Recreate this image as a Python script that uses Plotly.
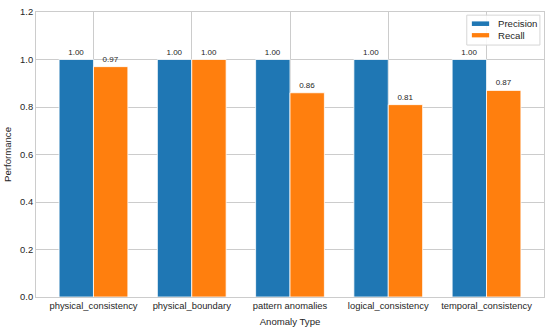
import plotly.graph_objects as go

categories = ["physical_consistency", "physical_boundary", "pattern anomalies",
              "logical_consistency", "temporal_consistency"]
precision = [1.00, 1.00, 1.00, 1.00, 1.00]
recall = [0.97, 1.00, 0.86, 0.81, 0.87]
y_ticks = [0.0, 0.2, 0.4, 0.6, 0.8, 1.0, 1.2]
series_names = ["Precision", "Recall"]
series_colors = ["#1f77b4", "#ff7f0e"]

FONT = "Liberation Sans, Arial, sans-serif"
TXT = "#262626"

fig = go.Figure()
for name, vals, col in zip(series_names, [precision, recall], series_colors):
    fig.add_trace(go.Bar(
        x=categories, y=vals, name=name,
        marker=dict(color=col, line=dict(color="white", width=0.8)),
        text=[f"{v:.2f}" for v in vals], textposition="outside",
        textfont=dict(size=8, color=TXT, family=FONT), cliponaxis=False,
        showlegend=False,
    ))

# compact legend box in the upper right (matplotlib style)
fig.add_shape(type="rect", xref="paper", yref="paper", x0=0.848, x1=0.992, y0=0.884, y1=0.989,
              fillcolor="rgba(255,255,255,0.85)", line=dict(color="#d6d6d6", width=1), layer="above")
leg_rows = [(0.951, 0.967, 0.958), (0.911, 0.926, 0.918)]
for (y0, y1, yt), name, col in zip(leg_rows, series_names, series_colors):
    fig.add_shape(type="rect", xref="paper", yref="paper", x0=0.858, x1=0.892, y0=y0, y1=y1,
                  fillcolor=col, line=dict(width=0), layer="above")
    fig.add_annotation(xref="paper", yref="paper", x=0.905, y=yt, xanchor="left", yanchor="middle",
                       text=name, showarrow=False, font=dict(size=9.6, color=TXT, family=FONT))

fig.update_layout(
    width=550, height=332,
    margin=dict(l=36, r=6, t=12, b=35, autoexpand=False),
    paper_bgcolor="white", plot_bgcolor="white",
    barmode="group", bargap=0.3, bargroupgap=0,
    font=dict(family=FONT, size=9.4, color=TXT),
    showlegend=False,
    xaxis=dict(
        range=[-0.585, 4.585], showgrid=True, gridcolor="#cccccc", gridwidth=1,
        showline=True, linecolor="#cccccc", mirror=True, ticks="",
        tickfont=dict(size=9.4, color=TXT),
        title=dict(text="Anomaly Type", font=dict(size=9.6, color=TXT), standoff=7),
    ),
    yaxis=dict(
        range=[0, 1.2], tickvals=y_ticks, ticktext=[f"{v:.1f}" for v in y_ticks],
        showgrid=True, gridcolor="#cccccc", gridwidth=1, zeroline=False,
        showline=True, linecolor="#cccccc", mirror=True, ticks="",
        tickfont=dict(size=9.4, color=TXT),
        title=dict(text="Performance", font=dict(size=9.6, color=TXT), standoff=6),
    ),
)

fig.write_html("out.html", config={"displayModeBar": False},
               post_script="document.body.style.margin='0';")
